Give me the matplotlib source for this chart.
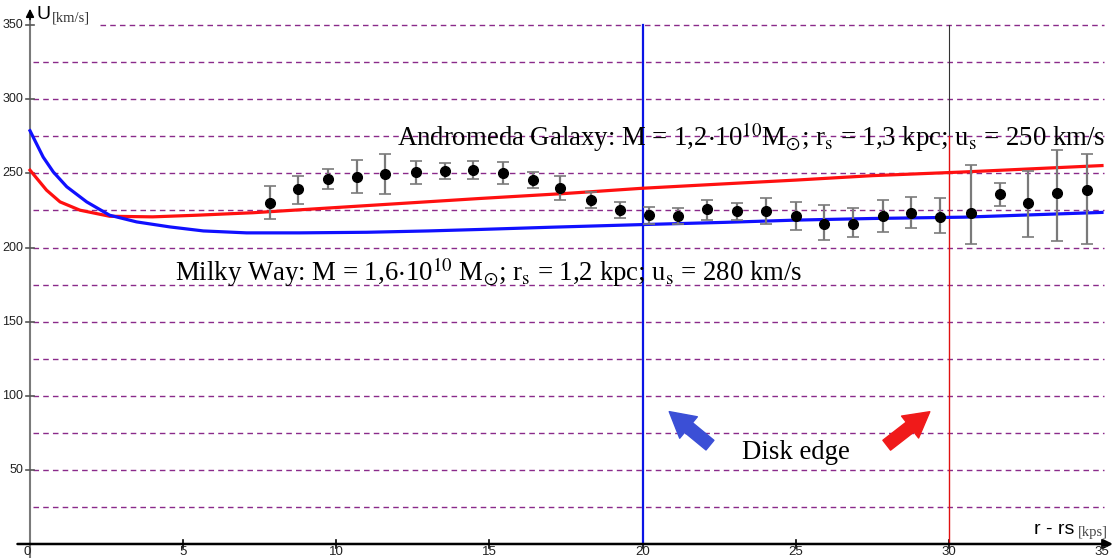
import matplotlib
matplotlib.use('Agg')
import matplotlib.pyplot as plt
import numpy as np

plt.rcParams['mathtext.fontset'] = 'stix'

# model curves
mw_r = [0, 0.43, 0.76, 1.2, 1.85, 2.6, 3.48, 4.57, 5.66, 7.07, 8.8, 11, 13,
        14.69, 17, 20, 22.7, 25, 27.5, 30.5, 35]
mw_u = [278.8, 261, 251, 241, 230.8, 221.8, 217.3, 213.9, 211.2, 209.9, 209.9,
        210.3, 211.2, 212.2, 213.7, 215.5, 217, 218.5, 219.6, 220.5, 223.7]

m31_r = [0, 0.54, 0.98, 1.63, 2.6, 4.0, 5.44, 7.3, 10, 12, 14.69, 17.5, 20,
         22.7, 25, 27.5, 30.5, 35]
m31_u = [252.2, 238.7, 230.8, 225.2, 221.1, 220.7, 221.8, 223.5, 227, 229.6,
         233.1, 236.5, 240, 243, 245.5, 248.5, 251, 255.3]

# observed points with error bar ends
obs_r = [7.84, 8.76, 9.74, 10.66, 11.59, 12.6, 13.55, 14.47, 15.43, 16.41,
         17.3, 18.32, 19.26, 20.21, 21.17, 22.11, 23.07, 24.03, 25.0, 25.93,
         26.88, 27.84, 28.76, 29.71, 30.72, 31.67, 32.59, 33.52, 34.5]
obs_u = [230.1, 239.2, 246.1, 247.7, 249.5, 250.7, 251.8, 252.2, 250.0, 245.9,
         239.9, 232.0, 225.2, 221.8, 221.1, 225.7, 224.5, 224.7, 221.4, 216.2,
         216.2, 221.4, 223.6, 220.7, 223.0, 235.8, 230.1, 236.5, 238.7]
obs_hi = [241.6, 248.4, 252.9, 259.0, 263.0, 258.5, 257.2, 258.5, 257.4, 250.7,
          248.4, 237.6, 230.8, 227.4, 226.4, 232.0, 230.1, 233.1, 230.8, 228.6,
          226.4, 232.0, 234.2, 233.1, 255.6, 243.7, 251.8, 266.0, 263.0]
obs_lo = [219.1, 229.7, 239.2, 236.9, 235.8, 243.2, 246.1, 246.1, 242.8, 240.5,
          232.0, 226.4, 219.6, 216.2, 216.2, 218.4, 218.4, 216.2, 211.7, 204.9,
          206.8, 210.5, 213.5, 209.9, 202.7, 227.9, 207.2, 204.3, 202.7]

y_ticks = [50, 100, 150, 200, 250, 300, 350]
x_ticks = [0, 5, 10, 15, 20, 25, 30, 35]
grid_u = list(range(25, 351, 25))

fig = plt.figure(figsize=(11.17, 5.58), dpi=100)
ax = fig.add_axes([0, 0, 1, 1])
ax.set_xlim(-0.98, 35.49)
ax.set_ylim(-9.45, 367)
ax.axis('off')

# dashed grid
for g in grid_u:
    x0 = 2.3 if g == 350 else 0.1
    ax.plot([x0, 35.05], [g, g], ls=(0, (4, 3)), color='#8a2a8a', lw=1.0,
            zorder=1)

# axes with arrows
ax.plot([0, 0], [-9.45, 356], color='#7a7a7a', lw=1.5, zorder=2)
ax.annotate('', xy=(0, 363), xytext=(0, 352),
            arrowprops=dict(arrowstyle='-|>', color='black', lw=1.2,
                            mutation_scale=12))
ax.annotate('', xy=(35.45, 0), xytext=(-0.5, 0),
            arrowprops=dict(arrowstyle='-|>', color='black', lw=1.8,
                            mutation_scale=13), zorder=3)

for t in y_ticks:
    ax.plot([-0.13, 0.13], [t, t], color='#555555', lw=1.2)
    ax.text(-0.22, t, str(t), ha='right', va='center', fontsize=9,
            family='Liberation Sans', color='#222222')
for t in x_ticks:
    if t > 0:
        ax.plot([t, t], [-2.5, 2.5], color='black', lw=1.2)
    ax.text(t - (0.1 if t == 0 else 0), -1.5, str(t), ha='center', va='top',
            fontsize=9.5, family='Liberation Sans', color='#222222')

ax.text(0.2, 357, 'U', fontsize=14, family='Liberation Sans', va='center',
        ha='left')
ax.text(0.72, 355, '[km/s]', fontsize=10.5, family='Liberation Serif',
        color='#333333', va='center', ha='left')
ax.text(34.1, 9.5, 'r - rs', fontsize=14, family='Liberation Sans',
        ha='right', va='center')
ax.text(34.2, 8.0, '[kps]', fontsize=10.5, family='Liberation Serif',
        color='#444444', ha='left', va='center')

# disk edge markers
ax.plot([20, 20], [0, 350], color='#0a14e6', lw=1.6, zorder=2)
ax.plot([30, 30], [275, 350], color='#333333', lw=0.8, zorder=2)
ax.plot([30, 30], [0, 275], color='#e01010', lw=1.0, zorder=2)

# model curves
ax.plot(m31_r, m31_u, color='#ff1010', lw=2.3, zorder=4)
ax.plot(mw_r, mw_u, color='#1010ff', lw=2.3, zorder=4)

# data with error bars
u = np.array(obs_u)
yerr = [u - np.array(obs_lo), np.array(obs_hi) - u]
ax.errorbar(obs_r, obs_u, yerr=yerr, fmt='o', color='black', markersize=7,
            ecolor='#7a7a7a', elinewidth=1.6, capsize=4.5, capthick=1.2,
            zorder=5)

ax.text(11.98, 274.6,
        r'Andromeda Galaxy: M = 1,2$\cdot$10$^{10}$M$_{\odot}$; '
        r'r$_{\rm s}$ = 1,3 kpc; u$_{\rm s}$ = 250 km/s',
        fontsize=19.3, family='Liberation Serif', ha='left', va='center',
        zorder=6)
ax.text(4.73, 183.5,
        r'Milky Way: M = 1,6$\cdot$10$^{10}$ M$_{\odot}$; '
        r'r$_{\rm s}$ = 1,2 kpc; u$_{\rm s}$ = 280 km/s',
        fontsize=19.3, family='Liberation Serif', ha='left', va='center',
        zorder=6)
ax.text(23.25, 62, 'Disk edge', fontsize=19.3, family='Liberation Serif',
        ha='left', va='center')

ax.annotate('', xy=(20.8, 90.5), xytext=(22.27, 65.5),
            arrowprops=dict(arrowstyle='simple,head_length=0.9,head_width=1.0,tail_width=0.45',
                            color='#3b4fd6', mutation_scale=20))
ax.annotate('', xy=(29.45, 90.4), xytext=(27.9, 65.5),
            arrowprops=dict(arrowstyle='simple,head_length=0.9,head_width=1.0,tail_width=0.45',
                            color='#f01a1a', mutation_scale=20))

fig.savefig('out.png', dpi=100)
